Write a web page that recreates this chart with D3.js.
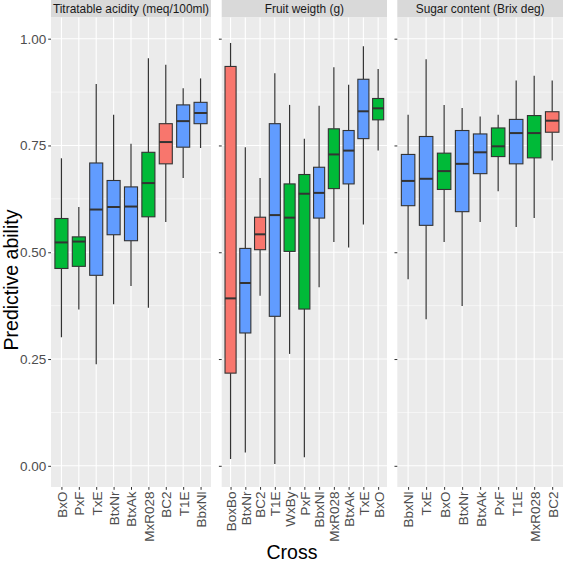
<!DOCTYPE html>
<html>
<head>
<meta charset="utf-8">
<script src="https://cdn.jsdelivr.net/npm/d3@7"></script>
<style>
  html, body { margin: 0; padding: 0; background: #ffffff; }
  svg { display: block; font-family: "Liberation Sans", Arial, Helvetica, sans-serif; }
</style>
</head>
<body>
<svg id="chart" width="563" height="563"></svg>
<script>
// ---------------- data ----------------
const facetTitles = ["Titratable acidity (meq/100ml)", "Fruit weigth (g)", "Sugar content (Brix deg)"];

const acidCross  = ["BxO", "PxF", "TxE", "BtxNr", "BtxAk", "MxR028", "BC2", "T1E", "BbxNl"];
const acidGroup  = ["g", "g", "b", "b", "b", "g", "r", "b", "b"];
const acidMin    = [0.301, 0.366, 0.238, 0.378, 0.421, 0.370, 0.571, 0.674, 0.744];
const acidQ1     = [0.462, 0.467, 0.446, 0.541, 0.527, 0.583, 0.707, 0.746, 0.801];
const acidMed    = [0.523, 0.525, 0.600, 0.606, 0.607, 0.662, 0.758, 0.807, 0.826];
const acidQ3     = [0.579, 0.536, 0.709, 0.668, 0.653, 0.734, 0.801, 0.845, 0.851];
const acidMax    = [0.720, 0.606, 0.894, 0.822, 0.754, 0.954, 0.939, 0.884, 0.907];

const weightCross = ["BoxBo", "BtxNr", "BC2", "T1E", "WxBy", "PxF", "BbxNl", "MxR028", "BtxAk", "TxE", "BxO"];
const weightGroup = ["r", "b", "r", "b", "g", "g", "b", "g", "b", "b", "g"];
const weightMin   = [0.016, 0.031, 0.398, 0.004, 0.262, 0.020, 0.418, 0.524, 0.511, 0.565, 0.738];
const weightQ1    = [0.217, 0.311, 0.506, 0.350, 0.502, 0.367, 0.580, 0.649, 0.660, 0.766, 0.810];
const weightMed   = [0.392, 0.428, 0.542, 0.587, 0.581, 0.637, 0.639, 0.729, 0.738, 0.830, 0.837];
const weightQ3    = [0.935, 0.509, 0.582, 0.801, 0.660, 0.682, 0.699, 0.789, 0.785, 0.905, 0.860];
const weightMax   = [0.990, 0.746, 0.674, 0.919, 0.845, 0.766, 0.843, 0.933, 0.892, 0.982, 0.929];

const sugarCross = ["BbxNl", "TxE", "BxO", "BtxNr", "BtxAk", "PxF", "T1E", "MxR028", "BC2"];
const sugarGroup = ["b", "b", "g", "b", "b", "g", "b", "g", "r"];
const sugarMin   = [0.437, 0.343, 0.524, 0.374, 0.571, 0.643, 0.559, 0.580, 0.715];
const sugarQ1    = [0.609, 0.563, 0.647, 0.595, 0.684, 0.724, 0.707, 0.721, 0.781];
const sugarMed   = [0.667, 0.672, 0.690, 0.707, 0.734, 0.748, 0.779, 0.779, 0.808];
const sugarQ3    = [0.729, 0.771, 0.732, 0.785, 0.777, 0.791, 0.811, 0.820, 0.829];
const sugarMax   = [0.822, 0.952, 0.845, 0.838, 0.818, 0.822, 0.902, 0.913, 0.902];

const yTicks = [0, 0.25, 0.5, 0.75, 1.0];
const yMinor = [0.125, 0.375, 0.625, 0.875];
const groupKeys = ["r", "g", "b"];
const groupColors = ["#F8766D", "#00BA38", "#619CFF"];

// ---------------- build ----------------
function rows(cross, group, mn, q1, med, q3, mx) {
  return cross.map((c, i) => ({cross: c, group: group[i], min: mn[i], q1: q1[i], med: med[i], q3: q3[i], max: mx[i]}));
}
const facets = [
  {title: facetTitles[0], data: rows(acidCross, acidGroup, acidMin, acidQ1, acidMed, acidQ3, acidMax), x0: 51, x1: 211},
  {title: facetTitles[1], data: rows(weightCross, weightGroup, weightMin, weightQ1, weightMed, weightQ3, weightMax), x0: 221.7, x1: 387},
  {title: facetTitles[2], data: rows(sugarCross, sugarGroup, sugarMin, sugarQ1, sugarMed, sugarQ3, sugarMax), x0: 397.3, x1: 563}
];

const svg = d3.select("#chart");
const panelTop = 17.5, panelBottom = 487;
const stripTop = 0;
const y = d3.scaleLinear().domain([-0.0496, 1.0496]).range([panelBottom, panelTop]);
const color = d3.scaleOrdinal().domain(groupKeys).range(groupColors);

facets.forEach((f, fi) => {
  const g = svg.append("g");
  const x = d3.scalePoint().domain(f.data.map(d => d.cross)).range([f.x0, f.x1]).padding(0.6);
  const step = x.step();
  const bw = step * 0.75;

  // strip
  g.append("rect").attr("x", f.x0).attr("y", stripTop).attr("width", f.x1 - f.x0).attr("height", panelTop - stripTop)
    .attr("fill", "#d9d9d9");
  g.append("text").attr("x", (f.x0 + f.x1) / 2).attr("y", (stripTop + panelTop) / 2).attr("dy", "0.36em")
    .attr("text-anchor", "middle").attr("font-size", "11.9px").attr("fill", "#1a1a1a").text(f.title);

  // panel
  g.append("rect").attr("x", f.x0).attr("y", panelTop).attr("width", f.x1 - f.x0).attr("height", panelBottom - panelTop)
    .attr("fill", "#ebebeb");
  g.selectAll(".minor").data(yMinor).join("line")
    .attr("x1", f.x0).attr("x2", f.x1).attr("y1", d => y(d)).attr("y2", d => y(d))
    .attr("stroke", "#ffffff").attr("stroke-width", 0.55);
  g.selectAll(".major").data(yTicks).join("line")
    .attr("x1", f.x0).attr("x2", f.x1).attr("y1", d => y(d)).attr("y2", d => y(d))
    .attr("stroke", "#ffffff").attr("stroke-width", 1.1);
  g.selectAll(".vgrid").data(f.data).join("line")
    .attr("x1", d => x(d.cross)).attr("x2", d => x(d.cross)).attr("y1", panelTop).attr("y2", panelBottom)
    .attr("stroke", "#ffffff").attr("stroke-width", 1.1);

  // y axis ticks
  const yAxis = d3.axisLeft(y).tickValues(yTicks).tickSize(2.8).tickPadding(2)
    .tickFormat(fi === 0 ? d3.format(".2f") : () => "");
  const ya = g.append("g").attr("transform", `translate(${f.x0},0)`).call(yAxis);
  ya.select(".domain").remove();
  ya.selectAll(".tick line").attr("stroke", "#333333").attr("stroke-width", 1);
  ya.selectAll(".tick text").attr("font-size", "13.5px").attr("fill", "#4d4d4d")
    .attr("font-family", "'Liberation Sans', Arial, sans-serif");

  // x axis
  const xAxis = d3.axisBottom(x).tickSize(2.8).tickPadding(2);
  const xa = g.append("g").attr("transform", `translate(0,${panelBottom})`).call(xAxis);
  xa.select(".domain").remove();
  xa.selectAll(".tick line").attr("stroke", "#333333").attr("stroke-width", 1);
  xa.selectAll(".tick text")
    .attr("font-size", "13.5px").attr("fill", "#4d4d4d")
    .attr("font-family", "'Liberation Sans', Arial, sans-serif")
    .attr("text-anchor", "end")
    .attr("transform", "rotate(-90)")
    .attr("x", -4.5).attr("y", 0).attr("dy", "0.36em");

  // boxes
  const bx = g.selectAll(".box").data(f.data).join("g");
  bx.append("line").attr("x1", d => x(d.cross)).attr("x2", d => x(d.cross))
    .attr("y1", d => y(d.max)).attr("y2", d => y(d.q3)).attr("stroke", "#333333").attr("stroke-width", 1.2);
  bx.append("line").attr("x1", d => x(d.cross)).attr("x2", d => x(d.cross))
    .attr("y1", d => y(d.q1)).attr("y2", d => y(d.min)).attr("stroke", "#333333").attr("stroke-width", 1.2);
  bx.append("rect").attr("x", d => x(d.cross) - bw / 2).attr("width", bw)
    .attr("y", d => y(d.q3)).attr("height", d => y(d.q1) - y(d.q3))
    .attr("fill", d => color(d.group)).attr("stroke", "#333333").attr("stroke-width", 1.1);
  bx.append("line").attr("x1", d => x(d.cross) - bw / 2).attr("x2", d => x(d.cross) + bw / 2)
    .attr("y1", d => y(d.med)).attr("y2", d => y(d.med)).attr("stroke", "#333333").attr("stroke-width", 2);
});

// axis titles
svg.append("text").attr("transform", "translate(11,280) rotate(-90)").attr("text-anchor", "middle")
  .attr("dy", "0.36em").attr("font-size", "19.5px").attr("fill", "#000000").text("Predictive ability");
svg.append("text").attr("x", 292).attr("y", 559).attr("text-anchor", "middle")
  .attr("font-size", "19.5px").attr("fill", "#000000").text("Cross");
</script>
</body>
</html>
